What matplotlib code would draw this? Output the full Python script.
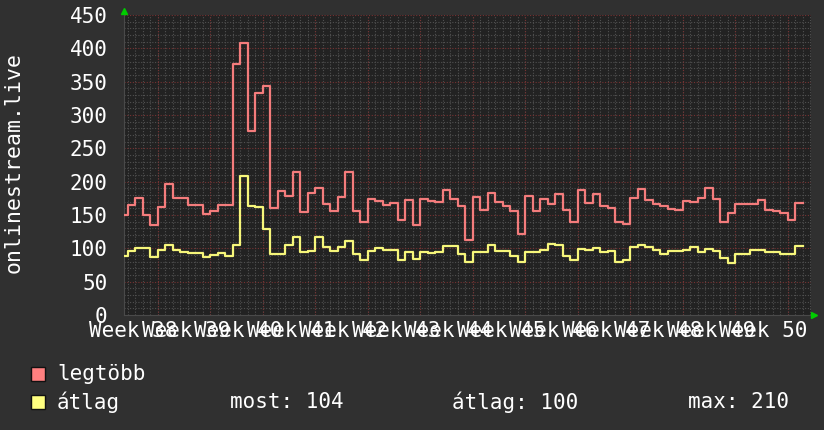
import matplotlib
matplotlib.use("Agg")
import matplotlib.pyplot as plt
import numpy as np
from matplotlib.patches import Rectangle

# ---- data (daily values) ----
legtobb = [150, 165, 175, 150, 135, 162, 196, 176, 176, 165,
           165, 152, 156, 165, 165, 377, 408, 276, 333, 343,
           161, 186, 178, 214, 154, 183, 190, 167, 156, 177,
           214, 156, 140, 174, 171, 165, 168, 142, 172, 135,
           174, 171, 170, 187, 174, 163, 112, 177, 157, 183,
           170, 163, 156, 121, 179, 156, 174, 166, 181, 157,
           140, 187, 168, 181, 163, 161, 140, 137, 176, 189,
           173, 167, 164, 159, 157, 171, 170, 176, 190, 174,
           140, 153, 166, 167, 167, 172, 158, 156, 153, 142, 168]
atlag = [89, 96, 100, 100, 87, 98, 105, 98, 95, 93,
         93, 87, 90, 93, 88, 105, 209, 163, 162, 129,
         91, 91, 105, 117, 95, 96, 117, 102, 96, 102,
         111, 91, 82, 96, 100, 98, 98, 83, 95, 84,
         94, 93, 95, 104, 104, 92, 79, 95, 95, 105,
         96, 96, 89, 80, 94, 95, 98, 106, 105, 89,
         83, 99, 97, 100, 94, 96, 79, 82, 102, 105,
         102, 98, 92, 96, 96, 98, 102, 95, 99, 96,
         86, 78, 92, 91, 98, 98, 95, 95, 91, 91, 104]
weeks = list(range(38, 51))
series_names = ["legtöbb", "átlag"]
stats_labels = ["most: 104", "átlag: 100", "max: 210"]
ylabel = "onlinestream.live"

BG = "#303030"
PLOT_BG = "#222222"
RED = "#f47c7c"
YEL = "#f6f67a"
MINOR = "#505050"
MAJOR = "#763232"
MONO = "DejaVu Sans Mono"

W, H = 824, 430
fig = plt.figure(figsize=(W / 100, H / 100), dpi=100, facecolor=BG)
L, R, T, B = 124, 811, 15, 315
ax = fig.add_axes([L / W, 1 - B / H, (R - L) / W, (B - T) / H])
ax.set_facecolor(PLOT_BG)

x_left = -4.533
x_right = 87.07
first_boundary = -4.0
ax.set_xlim(x_left, x_right)
ax.set_ylim(0, 450)

n = len(legtobb)
xs = np.concatenate([[x_left], first_boundary + np.arange(n - 1)])
xs_full = np.append(xs, xs[-1] + 1)
red_vals = np.array(legtobb, dtype=float)
yel_vals = np.array(atlag, dtype=float)

# grid
for d in np.arange(-4, 88):
    ax.axvline(d, color=MINOR, lw=0.8, ls=(0, (1, 1.5)), zorder=1)
for v in range(10, 450, 10):
    if v % 50:
        ax.axhline(v, color=MINOR, lw=0.8, ls=(0, (1, 1.5)), zorder=1)
for v in range(50, 451, 50):
    ax.axhline(v, color=MAJOR, lw=0.8, ls=(0, (1, 1.5)), zorder=1.5)
for k in range(len(weeks)):
    ax.axvline(7 * k, color=MAJOR, lw=0.8, ls=(0, (1, 1.5)), zorder=1.5)

ax.step(xs_full, np.append(red_vals, red_vals[-1]),
        where="post", color=RED, lw=1.6, zorder=3)
ax.step(xs_full, np.append(yel_vals, yel_vals[-1]),
        where="post", color=YEL, lw=1.6, zorder=3)

for s in ["top", "right"]:
    ax.spines[s].set_visible(False)
for s in ["left", "bottom"]:
    ax.spines[s].set_color("#4a4a4a")
    ax.spines[s].set_linewidth(0.8)

ax.set_yticks(range(0, 451, 50))
ax.set_yticklabels([str(v) for v in range(0, 451, 50)], fontsize=15,
                   color="white", family=MONO)
ax.tick_params(axis="y", length=0, pad=12)

ax.set_xticks([7 * k - 3.27 for k in range(len(weeks))])
ax.set_xticklabels([f"Week {w}" for w in weeks], fontsize=15, color="white",
                   family=MONO)
ax.tick_params(axis="x", length=0, pad=4)

# arrows
ax.plot([x_left], [456], marker="^", color="#00cc00", ms=4, clip_on=False, zorder=5)
ax.plot([x_right + 0.45], [0], marker=">", color="#00cc00", ms=4, clip_on=False, zorder=5)

fig.text(14 / W, 1 - 163 / H, ylabel, rotation=90, ha="center", va="center",
         fontsize=15.5, color="white", family=MONO)

# legend
for i, (name, col) in enumerate(zip(series_names, ["#ff8080", "#ffff80"])):
    yc = 374 + i * 28
    fig.patches.append(Rectangle((31 / W, 1 - (yc + 7) / H), 14 / W, 14 / H,
                                 transform=fig.transFigure, facecolor=col,
                                 edgecolor="#111111", lw=1))
    fig.text(57 / W, 1 - yc / H, name, ha="left", va="center", fontsize=15,
             color="white", family=MONO)
for xpos, lab in zip([230, 452, 688], stats_labels):
    fig.text(xpos / W, 1 - 402 / H, lab, ha="left", va="center", fontsize=15,
             color="white", family=MONO)

fig.savefig("out.png", dpi=100, facecolor=BG)
